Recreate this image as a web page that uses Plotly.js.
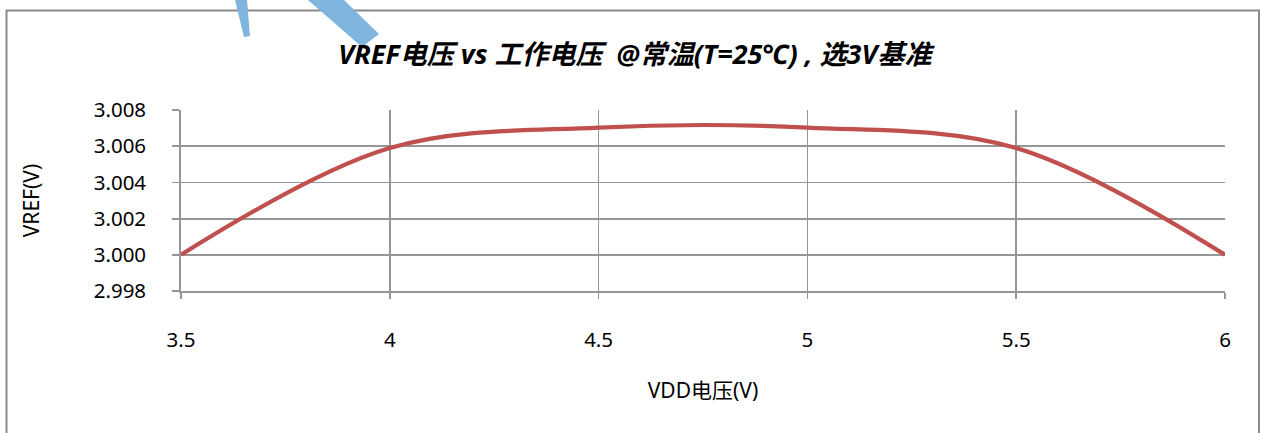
<!DOCTYPE html>
<html>
<head>
<meta charset="utf-8">
<script src="https://cdn.plot.ly/plotly-3.0.1.min.js"></script>
<style>
  html, body { margin: 0; padding: 0; background: #ffffff; }
  #chart { width: 1262px; height: 433px; }
</style>
</head>
<body>
<div id="chart"></div>
<script>
// ---- data ----
const vdd = [3.5, 4.0, 4.5, 5.0, 5.5, 6.0];
const vref = [3.000, 3.0059, 3.00703, 3.00703, 3.0059, 3.000];
const xTicks = [3.5, 4, 4.5, 5, 5.5, 6];
const xTickLabels = ['3.5', '4', '4.5', '5', '5.5', '6'];
const yTicks = [2.998, 3.000, 3.002, 3.004, 3.006, 3.008];
const yTickLabels = ['2.998', '3.000', '3.002', '3.004', '3.006', '3.008'];

const chartTitle = 'VREF电压 vs 工作电压\u00A0\u00A0@常温(T=25℃) , 选3V基准';
const xTitle = 'VDD电压(V)';
const yTitle = 'VREF(V)';

// ---- layout geometry ----
const W = 1262, H = 433;
const M = { l: 181, r: 37, t: 110, b: 142 };
const PW = W - M.l - M.r, PH = H - M.t - M.b;
const px = x => (x - M.l) / PW;
const py = y => (H - M.b - y) / PH;

const FONT = '"Noto Sans", "Noto Sans CJK SC", sans-serif';
const GRID = '#969696';

function poly(pts) {
  return 'M' + pts.map(p => px(p[0]).toFixed(5) + ',' + py(p[1]).toFixed(5)).join(' L') + ' Z';
}

const trace = {
  x: vdd,
  y: vref,
  type: 'scatter',
  mode: 'lines',
  line: { color: '#C0504D', width: 4.2, shape: 'spline', smoothing: 1 },
  hoverinfo: 'x+y'
};

const layout = {
  width: W,
  height: H,
  margin: M,
  paper_bgcolor: '#ffffff',
  plot_bgcolor: '#ffffff',
  showlegend: false,
  font: { family: FONT, color: '#000000', size: 20 },
  title: {
    text: '<b><i>' + chartTitle + '</i></b>',
    font: { family: FONT, size: 27, color: '#000000' },
    x: 0.503, xanchor: 'center',
    y: 1 - 55 / H, yanchor: 'middle',
    xref: 'container', yref: 'container'
  },
  xaxis: {
    range: [3.5, 6],
    tickvals: xTicks,
    ticktext: xTickLabels,
    ticks: 'outside', ticklen: 6, tickcolor: GRID, tickwidth: 1.8,
    ticklabelstandoff: 24,
    showgrid: true, gridcolor: GRID, gridwidth: 1.8,
    showline: true, linecolor: GRID, linewidth: 1.8,
    zeroline: false,
    tickfont: { family: FONT, size: 20.5, color: '#000000' },
    title: { text: xTitle, font: { family: FONT, size: 21, color: '#000000' }, standoff: 31 },
    automargin: false,
    fixedrange: true
  },
  yaxis: {
    range: [2.998, 3.008],
    tickvals: yTicks,
    ticktext: yTickLabels,
    ticks: 'outside', ticklen: 7, tickcolor: GRID, tickwidth: 1.8,
    ticklabelstandoff: 22,
    showgrid: true, gridcolor: GRID, gridwidth: 1.8,
    showline: true, linecolor: GRID, linewidth: 1.8,
    zeroline: false,
    tickfont: { family: FONT, size: 20.5, color: '#000000' },
    title: { text: yTitle, font: { family: FONT, size: 21, color: '#000000' }, standoff: 48 },
    automargin: false,
    fixedrange: true
  },
  shapes: [
    // outer chart border
    {
      type: 'rect', xref: 'paper', yref: 'paper', layer: 'below',
      x0: px(6.5), x1: px(1259), y0: py(450), y1: py(10.5),
      line: { color: '#8a8a8a', width: 2 }, fillcolor: 'rgba(0,0,0,0)'
    },
    // blue strokes at the top (overlay marks in the reference)
    {
      type: 'path', xref: 'paper', yref: 'paper', layer: 'above',
      path: poly([[235, 0], [247, 0], [250, 36], [244, 37]]),
      fillcolor: '#7fb5df', line: { width: 0 }
    },
    {
      type: 'path', xref: 'paper', yref: 'paper', layer: 'above',
      path: poly([[308, 0], [344, 0], [379, 34], [362, 47]]),
      fillcolor: '#7fb5df', line: { width: 0 }
    }
  ]
};

Plotly.newPlot('chart', [trace], layout, { displayModeBar: false, staticPlot: true });
</script>
</body>
</html>
